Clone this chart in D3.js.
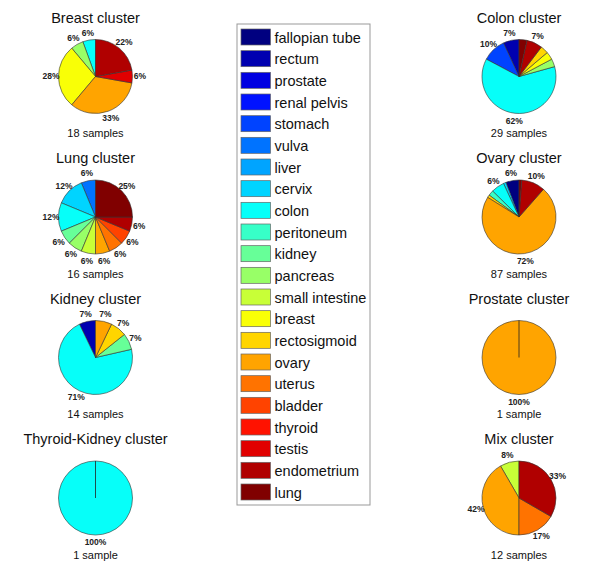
<!DOCTYPE html>
<html><head><meta charset="utf-8">
<script src="https://cdn.jsdelivr.net/npm/d3@7/dist/d3.min.js"></script>
<style>
body{margin:0;background:#fff;}
svg{display:block;font-family:"Liberation Sans",Arial,Helvetica,sans-serif;}
</style></head>
<body><svg id="chart" width="600" height="563"></svg>
<script>
// ---- data ----
const tissues = ["fallopian tube","rectum","prostate","renal pelvis","stomach","vulva","liver","cervix","colon","peritoneum","kidney","pancreas","small intestine","breast","rectosigmoid","ovary","uterus","bladder","thyroid","testis","endometrium","lung"];

const clusterNames = ["Breast cluster","Lung cluster","Kidney cluster","Thyroid-Kidney cluster","Colon cluster","Ovary cluster","Prostate cluster","Mix cluster"];

const breastTissue = ["colon","pancreas","breast","ovary","testis","endometrium"];
const breastCount  = [1,1,5,6,1,4];
const lungTissue = ["vulva","cervix","colon","kidney","pancreas","small intestine","ovary","uterus","bladder","endometrium","lung"];
const lungCount  = [1,2,2,1,1,1,1,1,1,1,4];
const kidneyTissue = ["rectum","colon","kidney","rectosigmoid","ovary"];
const kidneyCount  = [1,10,1,1,1];
const thyroidKidneyTissue = ["colon"];
const thyroidKidneyCount  = [1];
const colonTissue = ["rectum","stomach","colon","pancreas","breast","rectosigmoid","endometrium","lung"];
const colonCount  = [2,3,18,1,1,1,2,1];
const ovaryTissue = ["fallopian tube","cervix","colon","peritoneum","rectosigmoid","ovary","endometrium","lung"];
const ovaryCount  = [5,1,5,2,1,63,9,1];
const prostateTissue = ["ovary"];
const prostateCount  = [1];
const mixTissue = ["small intestine","ovary","uterus","endometrium"];
const mixCount  = [1,5,2,4];

const clusterTissues = [breastTissue,lungTissue,kidneyTissue,thyroidKidneyTissue,colonTissue,ovaryTissue,prostateTissue,mixTissue];
const clusterCounts  = [breastCount,lungCount,kidneyCount,thyroidKidneyCount,colonCount,ovaryCount,prostateCount,mixCount];

// ---- styling / layout ----
function jet(t){
  const c = v => Math.max(0, Math.min(1, v));
  const r = c(1.5 - Math.abs(4*t - 3)), g = c(1.5 - Math.abs(4*t - 2)), b = c(1.5 - Math.abs(4*t - 1));
  return d3.rgb(r*255, g*255, b*255).toString();
}
const color = d3.scaleOrdinal().domain(tissues).range(tissues.map((d,i)=>jet(i/(tissues.length-1))));

const svg = d3.select("#chart");
const R = 37;
const colX = [95.5, 519];
const rowY = [76.5, 217, 357.5, 498];

// round half to even (printf-style)
function pct(v){
  const x = v*100, f = Math.floor(x), diff = x - f;
  let r;
  if (Math.abs(diff-0.5) < 1e-9) r = (f % 2 === 0) ? f : f+1; else r = Math.round(x);
  return r + "%";
}

const pie = d3.pie().sort(null).value(d=>d.count).startAngle(0).endAngle(-2*Math.PI);
const arc = d3.arc().innerRadius(0).outerRadius(R);
const labelArc = d3.arc().innerRadius(R*1.2).outerRadius(R*1.2);

clusterNames.forEach((name, k) => {
  const cx = colX[Math.floor(k/4)], cy = rowY[k%4];
  const data = clusterTissues[k].map((t,i)=>({tissue:t, count:clusterCounts[k][i]}));
  const total = d3.sum(data, d=>d.count);
  const g = svg.append("g").attr("transform", `translate(${cx},${cy})`);

  svg.append("text").attr("x", cx).attr("y", cy - 54)
    .attr("text-anchor","middle").attr("font-size","14.5px").attr("fill","#111").text(name);

  const arcs = pie(data);
  g.selectAll("path").data(arcs).join("path")
    .attr("d", arc).attr("fill", d=>color(d.data.tissue))
    .attr("stroke","#333").attr("stroke-width",0.6);

  if (arcs.length === 1) {
    g.append("line").attr("x1",0).attr("y1",0).attr("x2",0).attr("y2",-R)
      .attr("stroke","#222").attr("stroke-width",0.8);
  }

  g.selectAll("text.pct").data(arcs.filter(d=>d.data.count/total >= 0.05)).join("text")
    .attr("class","pct")
    .attr("transform", d=>`translate(${labelArc.centroid(d)})`)
    .attr("text-anchor","middle").attr("dy","0.35em")
    .attr("font-size","8.5px").attr("font-weight","bold").attr("fill","#222")
    .text(d=>pct(d.data.count/total));

  svg.append("text").attr("x", cx).attr("y", cy + 60.5)
    .attr("text-anchor","middle").attr("font-size","11px").attr("fill","#111")
    .text(total + (total === 1 ? " sample" : " samples"));
});

// ---- legend ----
const lg = svg.append("g");
lg.append("rect").attr("x",237).attr("y",24).attr("width",133).attr("height",481)
  .attr("fill","#fff").attr("stroke","#999").attr("stroke-width",1);
const ly = d3.scaleLinear().domain([0, tissues.length-1]).range([29, 484]);
const items = lg.selectAll("g.item").data(tissues).join("g").attr("class","item")
  .attr("transform",(d,i)=>`translate(241,${ly(i)})`);
items.append("rect").attr("width",29.5).attr("height",16)
  .attr("fill", d=>color(d)).attr("stroke","#666").attr("stroke-width",0.7);
items.append("text").attr("x",33.5).attr("y",13.5)
  .attr("font-size","14.5px").attr("fill","#111").text(d=>d);
</script>
</body></html>
